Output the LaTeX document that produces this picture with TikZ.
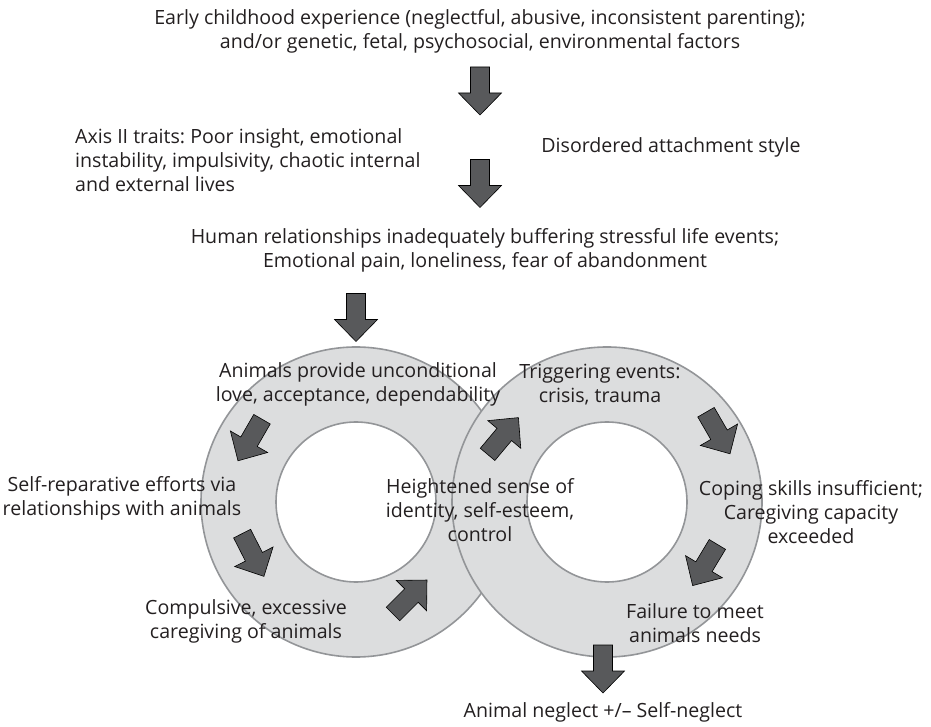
\documentclass[tikz,border=0pt]{standalone}
\usepackage{fontspec}
\setmainfont{Open Sans}
\frenchspacing
\definecolor{ink}{HTML}{231F20}
\definecolor{arrowgray}{HTML}{58595B}
\definecolor{ringgray}{HTML}{DCDDDE}
\definecolor{ringedge}{HTML}{939598}
\begin{document}
\begin{tikzpicture}[x=1pt,y=1pt,
  txt/.style={font=\fontsize{19.6}{24}\selectfont, text=ink, align=center, inner sep=0pt},
  ringband/.style={fill=ringgray, even odd rule},
  ringline/.style={draw=ringedge, line width=1.6pt},
  blockarrow/.pic={\filldraw[fill=arrowgray, draw=black, line width=0.6pt, line join=miter]
    (-24,-9.5) -- (2,-9.5) -- (2,-21.5) -- (24,0) -- (2,21.5) -- (2,9.5) -- (-24,9.5) -- cycle;}
]
\useasboundingbox (0,0) rectangle (931,726);

% the two rings
\coordinate (L) at (356,224);
\coordinate (R) at (607,224);
\fill[ringband] (L) circle (155pt) (L) circle (80pt);
\draw[ringline] (L) circle (155pt) (L) circle (80pt);
\fill[ringband] (R) circle (155pt) (R) circle (80pt);
\draw[ringline] (R) circle (155pt) (R) circle (80pt);

% block arrows
\pic[rotate=-90] at (480,635) {blockarrow};
\pic[rotate=-90] at (480,542.5) {blockarrow};
\pic[rotate=-90] at (356,408.5) {blockarrow};
\pic[rotate=-90] at (603,57) {blockarrow};
\pic[rotate=-120] at (250,286) {blockarrow};
\pic[rotate=-63] at (253,171) {blockarrow};
\pic[rotate=45] at (410,129) {blockarrow};
\pic[rotate=50] at (503,290) {blockarrow};
\pic[rotate=-60] at (718,293) {blockarrow};
\pic[rotate=-121] at (705,161) {blockarrow};

% labels
\node[txt] (early) at (480,694.5) {Early childhood experience (neglectful, abusive, inconsistent parenting);\\and/or genetic, fetal, psychosocial, environmental factors};
\node[txt, align=left, anchor=west] (axis) at (75,566) {Axis II traits: Poor insight, emotional\\instability, impulsivity, chaotic internal\\and external lives};
\node[txt] (attach) at (671,579) {Disordered attachment style};
\node[txt] (human) at (485,476) {Human relationships inadequately buffering stressful life events;\\Emotional pain, loneliness, fear of abandonment};
\node[txt] (love) at (358,342) {Animals provide unconditional\\love, acceptance, dependability};
\node[txt] (repair) at (122,228) {Self-reparative efforts via\\relationships with animals};
\node[txt] (compulsive) at (246,105) {Compulsive, excessive\\caregiving of animals};
\node[txt] (identity) at (480,216) {Heightened sense of\\identity, self-esteem,\\control};
\node[txt] (trigger) at (600,341) {Triggering events:\\crisis, trauma};
\node[txt] (coping) at (811,214) {Coping skills insufficient;\\Caregiving capacity\\exceeded};
\node[txt] (failure) at (695,103) {Failure to meet\\animals needs};
\node[txt] (neglect) at (603,14) {Animal neglect +/-- Self-neglect};
\end{tikzpicture}
\end{document}
